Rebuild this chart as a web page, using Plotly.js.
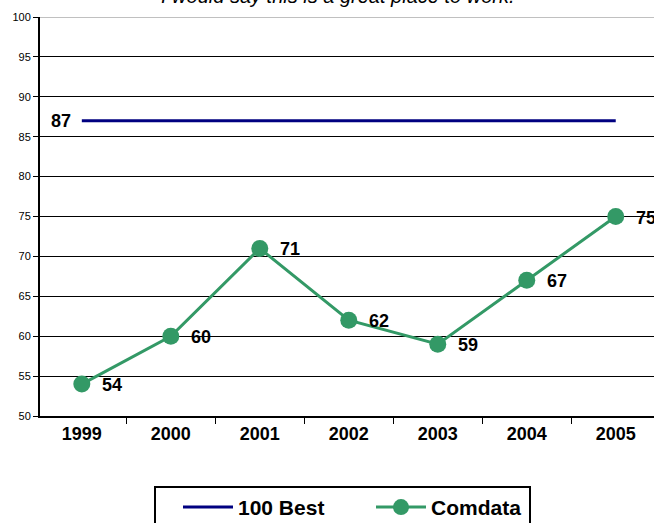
<!DOCTYPE html>
<html>
<head>
<meta charset="utf-8">
<script src="https://cdn.plot.ly/plotly-3.0.1.min.js"></script>
<style>html,body{margin:0;padding:0;background:#fff;}#chart{width:654px;height:523px;}</style>
</head>
<body>
<div id="chart"></div>
<script>
const years = ['1999','2000','2001','2002','2003','2004','2005'];
const best100 = [87,87,87,87,87,87,87];
const comdata = [54,60,71,62,59,67,75];
const titleText = 'I would say this is a great place to work.';

const FONT = 'Arial, Liberation Sans, sans-serif';

const traces = [
  {
    x: years, y: best100, name: '100 Best', type: 'scatter', mode: 'lines',
    line: {color: '#000080', width: 3}
  },
  {
    x: years, y: comdata, name: 'Comdata', type: 'scatter', mode: 'lines+markers',
    line: {color: '#339966', width: 3},
    marker: {color: '#339966', size: 17}
  }
];

const labelFont = {family: FONT, size: 18, color: '#000', weight: 'bold'};
const annotations = [];
comdata.forEach((v, i) => {
  annotations.push({
    x: i, y: v, xref: 'x', yref: 'y', text: String(v), showarrow: false,
    xanchor: 'left', yanchor: 'middle', xshift: 18, yshift: -1, font: labelFont
  });
});
annotations.push({
  x: 0, y: best100[0], xref: 'x', yref: 'y', text: String(best100[0]), showarrow: false,
  xanchor: 'right', yanchor: 'middle', xshift: -9, yshift: 0, font: labelFont
});
annotations.push({
  x: 0.485, y: 1, xref: 'paper', yref: 'paper', text: '<i>' + titleText + '</i>', showarrow: false,
  xanchor: 'center', yanchor: 'middle', yshift: 21,
  font: {family: FONT, size: 20, color: '#000'}
});

const layout = {
  width: 654, height: 523,
  margin: {l: 40, r: 0, t: 17, b: 107},
  paper_bgcolor: '#fff', plot_bgcolor: '#fff',
  font: {family: FONT, color: '#000'},
  xaxis: {
    type: 'category', range: [-0.47, 6.43],
    showgrid: false, zeroline: false,
    showline: true, linecolor: '#000', linewidth: 2,
    ticks: 'outside', tickson: 'boundaries', ticklen: 6, tickcolor: '#000', tickwidth: 1,
    tickfont: {family: FONT, size: 18, color: '#000', weight: 'bold'}
  },
  yaxis: {
    range: [50, 100], dtick: 5, tick0: 50,
    showgrid: true, gridcolor: '#000', gridwidth: 1, zeroline: false,
    showline: true, linecolor: '#000', linewidth: 2,
    ticks: 'outside', ticklen: 5, tickcolor: '#000',
    tickfont: {family: FONT, size: 11, color: '#000'}
  },
  shapes: [
    {type: 'line', xref: 'paper', yref: 'y', x0: 0, x1: 1, y0: 100, y1: 100,
     line: {color: '#c0c0c0', width: 2}, layer: 'above'},
    {type: 'rect', xref: 'paper', yref: 'paper',
     x0: (155 - 40) / 614, x1: (530 - 40) / 614, y0: -(540 - 416) / 399, y1: -(487 - 416) / 399,
     line: {color: '#000', width: 2}, fillcolor: 'rgba(0,0,0,0)', layer: 'above'}
  ],
  annotations: annotations,
  showlegend: true,
  legend: {
    orientation: 'h', x: (178 - 40) / 614, xanchor: 'left', yref: 'container', y: 0.069, yanchor: 'top',
    borderwidth: 0, bgcolor: 'rgba(0,0,0,0)',
    font: {family: FONT, size: 21, color: '#000', weight: 'bold'},
    itemwidth: 50, entrywidth: 128, entrywidthmode: 'pixels'
  }
};

Plotly.newPlot('chart', traces, layout, {displayModeBar: false, staticPlot: true});
</script>
</body>
</html>
